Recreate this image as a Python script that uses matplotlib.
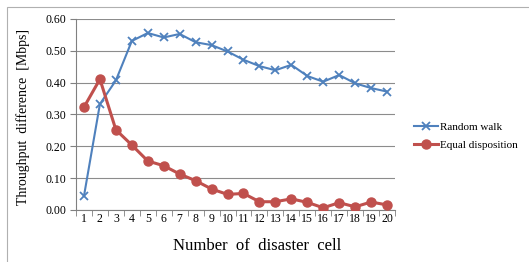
import matplotlib
matplotlib.use("Agg")
import matplotlib.pyplot as plt
from matplotlib.patches import Rectangle
from matplotlib.ticker import FixedLocator

cells = list(range(1, 21))
random_walk = [0.044, 0.333, 0.407, 0.531, 0.556, 0.542, 0.553, 0.527, 0.518, 0.498,
               0.472, 0.452, 0.439, 0.456, 0.421, 0.403, 0.424, 0.398, 0.383, 0.372]
equal_disp = [0.323, 0.411, 0.252, 0.204, 0.154, 0.139, 0.113, 0.092, 0.066, 0.049,
              0.052, 0.026, 0.026, 0.035, 0.024, 0.007, 0.023, 0.010, 0.025, 0.016]
yticks = [0.0, 0.1, 0.2, 0.3, 0.4, 0.5, 0.6]

plt.rcParams['font.family'] = ['Liberation Serif', 'DejaVu Serif']

fig = plt.figure(figsize=(5.29, 2.62), dpi=100)
fig.patches.append(Rectangle((7/529, -0.1), 1.2, (262-7)/262 + 0.1, transform=fig.transFigure,
                             fill=False, edgecolor='#b0b0b0', linewidth=0.8))
ax = fig.add_axes([76/529, (262-210)/262, (395-76)/529, (210-19)/262])

blue = '#4F81BD'
red = '#C0504D'
ax.plot(cells, random_walk, color=blue, marker='x', markersize=6, markeredgewidth=1.3,
        linewidth=1.5, label='Random walk', zorder=3)
ax.plot(cells, equal_disp, color=red, marker='o', markersize=6.5, linewidth=2.2,
        label='Equal disposition', zorder=3)

ax.set_xlim(0.5, 20.5)
ax.set_ylim(0, 0.6)
ax.set_yticks(yticks)
ax.set_yticklabels([f"{v:.2f}" for v in yticks], fontsize=8.5)
ax.set_xticks(cells)
ax.set_xticklabels([str(c) for c in cells], fontsize=8.5)
ax.xaxis.set_minor_locator(FixedLocator([i + 0.5 for i in range(0, 21)]))
ax.tick_params(axis='x', which='major', length=0, pad=2)
ax.tick_params(axis='x', which='minor', length=4, color='#808080')
ax.tick_params(axis='y', length=4, color='#808080', pad=3)
ax.grid(axis='y', color='#8c8c8c', linewidth=0.8)
ax.set_axisbelow(True)
for s in ['top', 'right']:
    ax.spines[s].set_visible(False)
ax.spines['left'].set_color('#808080')
ax.spines['bottom'].set_color('#808080')

fig.text(257/529, 1 - 246/262, 'Number  of  disaster  cell', fontsize=12,
         ha='center', va='center')
fig.text(23/529, 1 - 117/262, 'Throughput  difference  [Mbps]', fontsize=10,
         rotation=90, ha='center', va='center')

fig.legend(loc='center left', bbox_to_anchor=(404/529, 1 - 136/262), frameon=False,
           fontsize=8, handlelength=2.2, handletextpad=0.1, labelspacing=0.7)

fig.savefig('out.png', dpi=100)
